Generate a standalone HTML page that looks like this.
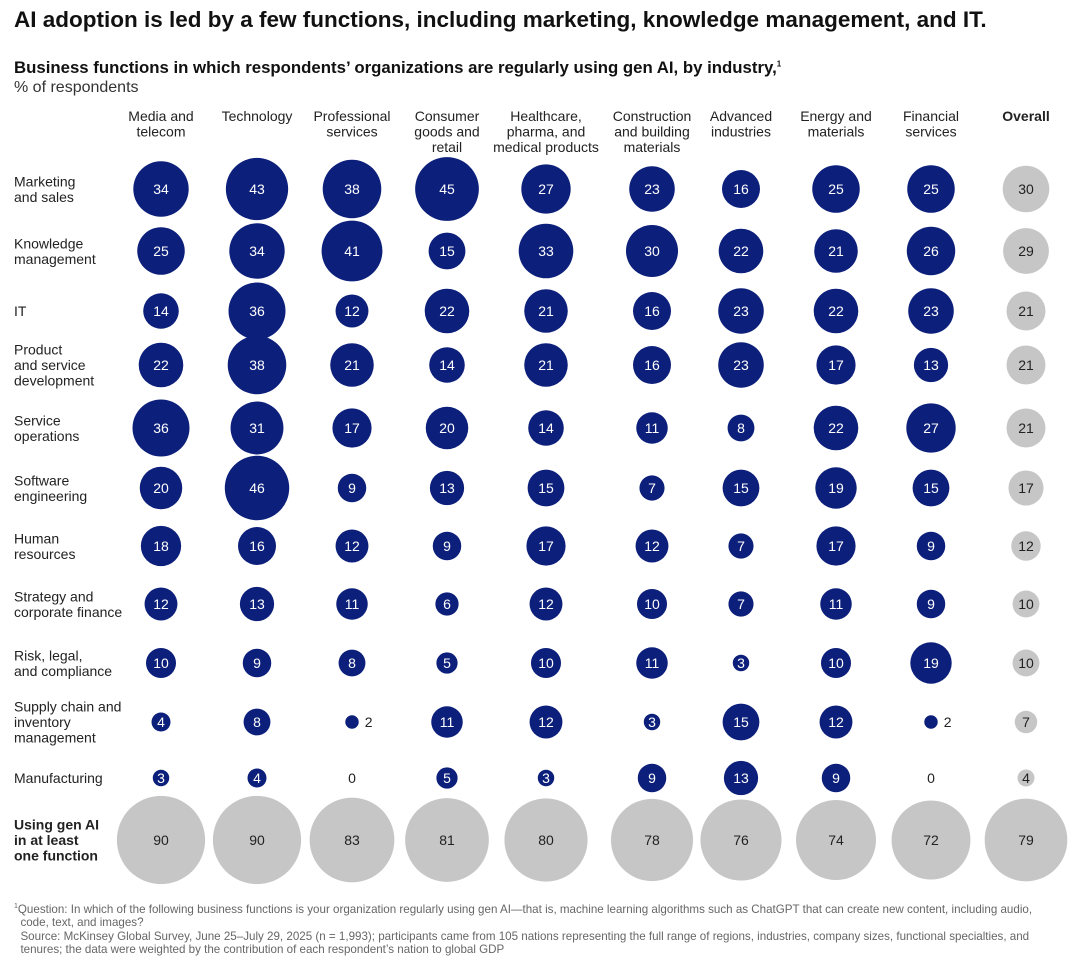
<!DOCTYPE html>
<html><head><meta charset="utf-8">
<style>
body{margin:0;background:#fff;font-family:"Liberation Sans",sans-serif;color:#111;}
#wrap{position:relative;width:1080px;height:972px;overflow:hidden;}
.t{position:absolute;}
sup{line-height:0;}
</style></head>
<body>
<div id="wrap">
<div class="t" style="left:14px;top:7px;font-size:22.5px;font-weight:bold;">AI adoption is led by a few functions, including marketing, knowledge management, and IT.</div>
<div class="t" style="left:14px;top:58px;font-size:16.8px;font-weight:bold;">Business functions in which respondents’ organizations are regularly using gen AI, by industry,<sup style="font-size:8px">1</sup></div>
<div class="t" style="left:14px;top:79px;font-size:16px;color:#333;">% of respondents</div>
<svg id="chart" width="1080" height="972" style="position:absolute;left:0;top:0"></svg>
<div class="t" style="left:14px;top:903px;font-size:11.6px;color:#666;line-height:13.3px;width:1060px;"><sup style="font-size:7px">1</sup>Question: In which of the following business functions is your organization regularly using gen AI—that is, machine learning algorithms such as ChatGPT that can create new content, including audio,<br>&nbsp;&nbsp;code, text, and images?<br>&nbsp;&nbsp;Source: McKinsey Global Survey, June 25–July 29, 2025 (n = 1,993); participants came from 105 nations representing the full range of regions, industries, company sizes, functional specialties, and<br>&nbsp;&nbsp;tenures; the data were weighted by the contribution of each respondent’s nation to global GDP</div>
</div>
<script>
const industries=[["Media and","telecom"],["Technology"],["Professional","services"],["Consumer","goods and","retail"],["Healthcare,","pharma, and","medical products"],["Construction","and building","materials"],["Advanced","industries"],["Energy and","materials"],["Financial","services"],["Overall"]];
const functions=[["Marketing","and sales"],["Knowledge","management"],["IT"],["Product","and service","development"],["Service","operations"],["Software","engineering"],["Human","resources"],["Strategy and","corporate finance"],["Risk, legal,","and compliance"],["Supply chain and","inventory","management"],["Manufacturing"],["Using gen AI","in at least","one function"]];
const values=[
[34,43,38,45,27,23,16,25,25,30],
[25,34,41,15,33,30,22,21,26,29],
[14,36,12,22,21,16,23,22,23,21],
[22,38,21,14,21,16,23,17,13,21],
[36,31,17,20,14,11,8,22,27,21],
[20,46,9,13,15,7,15,19,15,17],
[18,16,12,9,17,12,7,17,9,12],
[12,13,11,6,12,10,7,11,9,10],
[10,9,8,5,10,11,3,10,19,10],
[4,8,2,11,12,3,15,12,2,7],
[3,4,0,5,3,9,13,9,0,4],
[90,90,83,81,80,78,76,74,72,79]];
const colX=[161,257,352,447,546,652,741,836,931,1026];
const rowY=[189,251,311,365,428,488,546,604,663,722,778,840];
const NS="http://www.w3.org/2000/svg";
const svg=document.getElementById('chart');
function xPos(c){return colX[c];}
function yPos(r){return rowY[r];}
function rad(v,r,c){if(r===11)return 4.65*Math.sqrt(v);if(c===9)return 4.25*Math.sqrt(v);return 4.75*Math.sqrt(v);}
function txt(x,y,s,attrs){const t=document.createElementNS(NS,'text');t.setAttribute('x',x);t.setAttribute('y',y);for(const k in attrs)t.setAttribute(k,attrs[k]);t.textContent=s;svg.appendChild(t);return t;}
industries.forEach((lines,c)=>{
  lines.forEach((l,i)=>{
    const t=txt(xPos(c),121+i*15.5,l,{'text-anchor':'middle','font-size':'14','fill':'#222','font-family':'Liberation Sans, sans-serif','font-weight':c===9?'bold':'normal'});
    
    
  });
});
functions.forEach((lines,r)=>{
  const n=lines.length,y0=yPos(r)-(n-1)*7.75+5;
  lines.forEach((l,i)=>{
    const t=txt(14,y0+i*15.5,l,{'font-size':'14','fill':'#222','font-family':'Liberation Sans, sans-serif','font-weight':r===11?'bold':'normal'});
    
    
  });
});
values.forEach((row,r)=>{
  row.forEach((v,c)=>{
    const gray=(c===9||r===11);
    const cx=xPos(c),cy=yPos(r),rr=rad(v,r,c);
    if(v>0){
      const ci=document.createElementNS(NS,'circle');
      ci.setAttribute('cx',cx);ci.setAttribute('cy',cy);ci.setAttribute('r',rr);
      ci.setAttribute('fill',gray?'#c6c6c6':'#0c1f7a');
      
      
      svg.appendChild(ci);
    }
    let lx=cx,anchor='middle',col=gray?'#222':'#fff';
    if(v===0){col='#222';}
    else if(v<3){lx=cx+rr+6;anchor='start';col='#222';}
    const t=txt(lx,cy+5,String(v),{'text-anchor':anchor,'font-size':'14','fill':col,'font-family':'Liberation Sans, sans-serif'});
    
    
  });
});
</script>
</body></html>
